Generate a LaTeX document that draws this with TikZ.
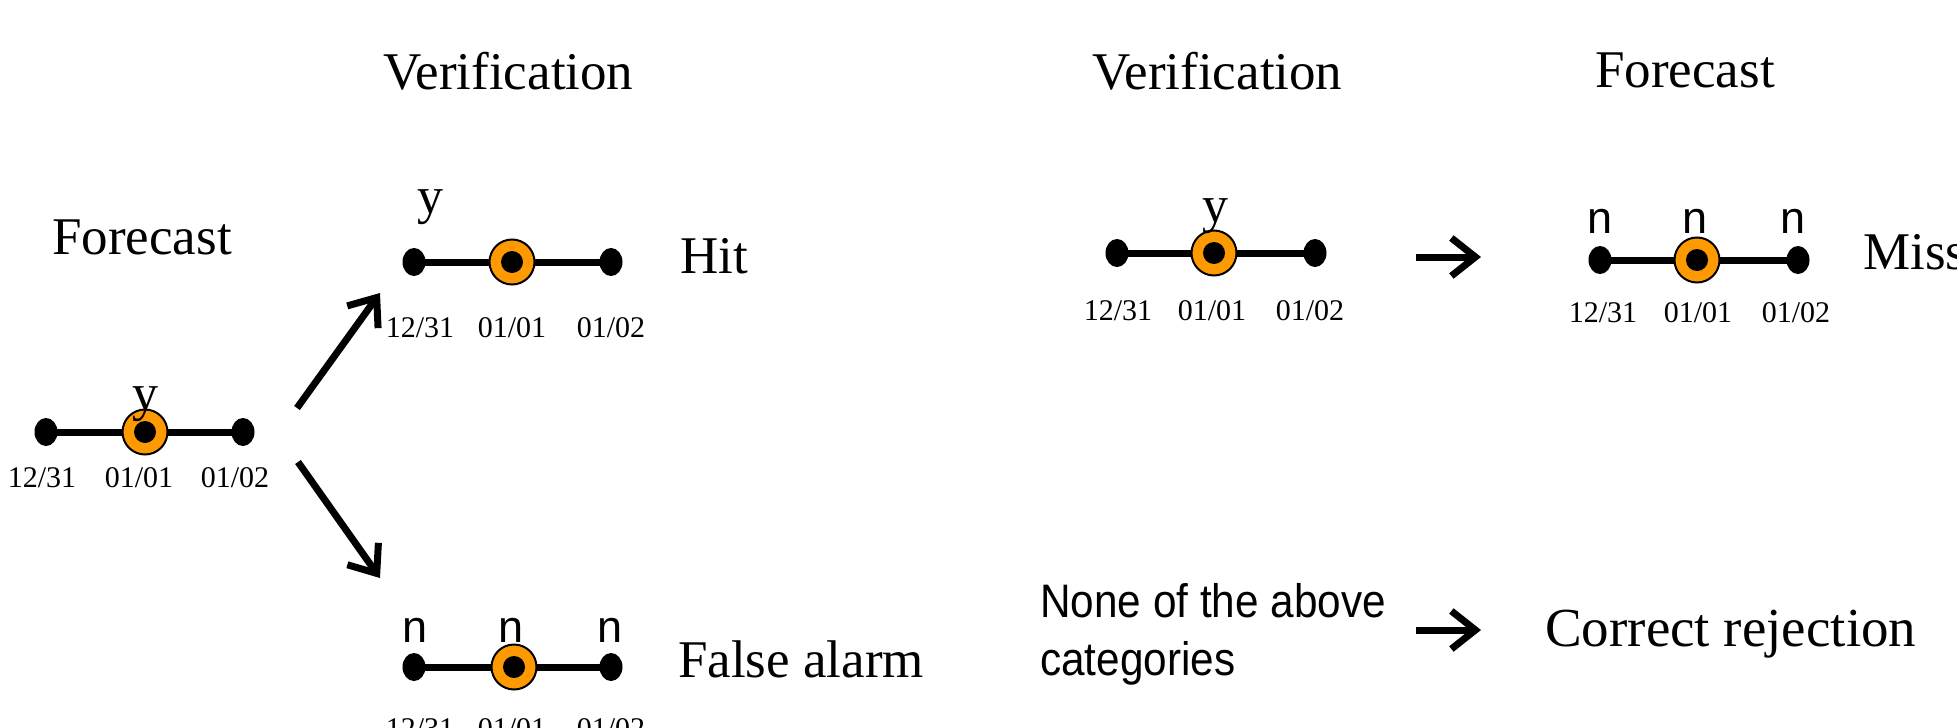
\documentclass[tikz,border=0pt]{standalone}
\usepackage{fontspec}
\setmainfont{Liberation Serif}
\newfontfamily\sansf{Liberation Sans}
\newfontfamily\sansnarrow[FakeStretch=0.9]{Liberation Sans}
\usetikzlibrary{arrows.meta,shapes.geometric}
\definecolor{ringorange}{RGB}{255,153,0}
\tikzset{
  enddot/.style={ellipse, fill=black, minimum width=23pt, minimum height=28pt, inner sep=0pt},
  ringnode/.style={circle, fill=ringorange, draw=black, line width=2pt, minimum size=45pt, inner sep=0pt},
  corenode/.style={circle, fill=black, minimum size=22pt, inner sep=0pt},
  barline/.style={line width=7pt},
  datelab/.style={anchor=base, inner sep=0pt, font=\fontsize{30}{32}\selectfont},
  ylab/.style={anchor=base, inner sep=0pt, font=\fontsize{52}{56}\selectfont},
  nlab/.style={anchor=base, inner sep=0pt, font=\sansf\fontsize{45}{50}\selectfont},
  bigtext/.style={anchor=base west, inner sep=0pt, font=\fontsize{53}{60}\selectfont},
  sanstext/.style={anchor=base west, inner sep=0pt, align=left, font=\sansnarrow\fontsize{47}{58}\selectfont},
  arr/.style={line width=7pt, -{Straight Barb[length=24pt,width=38pt]}},
}
\newcommand\timelinebar[5]{%
  \node[enddot] (#1L) at (#2,#5) {};
  \node[enddot] (#1R) at (#4,#5) {};
  \draw[barline] (#1L.center) -- (#1R.center);
  \node[ringnode] (#1M) at (#3,#5) {};
  \node[corenode] (#1C) at (#1M.center) {};
}
\begin{document}
\begin{tikzpicture}[x=1pt,y=-1pt]
\useasboundingbox[fill=white] (0,0) rectangle (1957,728);

% titles
\node[bigtext] (tver1) at (383,89) {Verification};
\node[bigtext] (tfc1) at (52,254) {Forecast};
\node[bigtext] (tver2) at (1092,89) {Verification};
\node[bigtext] (tfc2) at (1595,87) {Forecast};

% left forecast timeline
\timelinebar{fa}{46}{145}{243}{432}
\node[ylab] (fay) at (145,410) {y};
\node[datelab] (fad1) at (42,487) {12/31};
\node[datelab] (fad2) at (139,487) {01/01};
\node[datelab] (fad3) at (235,487) {01/02};

% hit timeline
\timelinebar{va}{414}{512}{611}{262}
\node[ylab] (vay) at (430,213) {y};
\node[datelab] (vad1) at (420,337) {12/31};
\node[datelab] (vad2) at (512,337) {01/01};
\node[datelab] (vad3) at (611,337) {01/02};
\node[bigtext] (hit) at (680,273) {Hit};

% false alarm timeline
\timelinebar{vb}{414}{514}{611}{667}
\node[nlab] (vbn1) at (415,642) {n};
\node[nlab] (vbn2) at (511,642) {n};
\node[nlab] (vbn3) at (610,642) {n};
\node[datelab] (vbd1) at (420,738) {12/31};
\node[datelab] (vbd2) at (512,738) {01/01};
\node[datelab] (vbd3) at (611,738) {01/02};
\node[bigtext] (fal) at (678,677) {False alarm};

% arrows from forecast
\coordinate (a1s) at (297,408); \coordinate (a1e) at (380,293);
\coordinate (a2s) at (298,462); \coordinate (a2e) at (380,578);
\draw[arr] (a1s) -- (a1e);
\draw[arr] (a2s) -- (a2e);

% right: verification timeline
\timelinebar{vc}{1117}{1214}{1315}{253}
\node[ylab] (vcy) at (1215,222) {y};
\node[datelab] (vcd1) at (1118,320) {12/31};
\node[datelab] (vcd2) at (1212,320) {01/01};
\node[datelab] (vcd3) at (1310,320) {01/02};

% right: forecast timeline
\timelinebar{fb}{1600}{1697}{1798}{260}
\node[nlab] (fbn1) at (1600,233) {n};
\node[nlab] (fbn2) at (1695,233) {n};
\node[nlab] (fbn3) at (1793,233) {n};
\node[datelab] (fbd1) at (1603,322) {12/31};
\node[datelab] (fbd2) at (1698,322) {01/01};
\node[datelab] (fbd3) at (1796,322) {01/02};
\node[bigtext] (miss) at (1863,269) {Miss};

\coordinate (a3s) at (1416,257); \coordinate (a3e) at (1481,257);
\draw[arr] (a3s) -- (a3e);

% bottom right
\node[sanstext] (none) at (1040,675) {None of the above\\categories};
\coordinate (a4s) at (1416,630); \coordinate (a4e) at (1481,630);
\draw[arr] (a4s) -- (a4e);
\node[bigtext,font=\fontsize{55}{60}\selectfont] (cr) at (1545,646) {Correct rejection};
\end{tikzpicture}
\end{document}
